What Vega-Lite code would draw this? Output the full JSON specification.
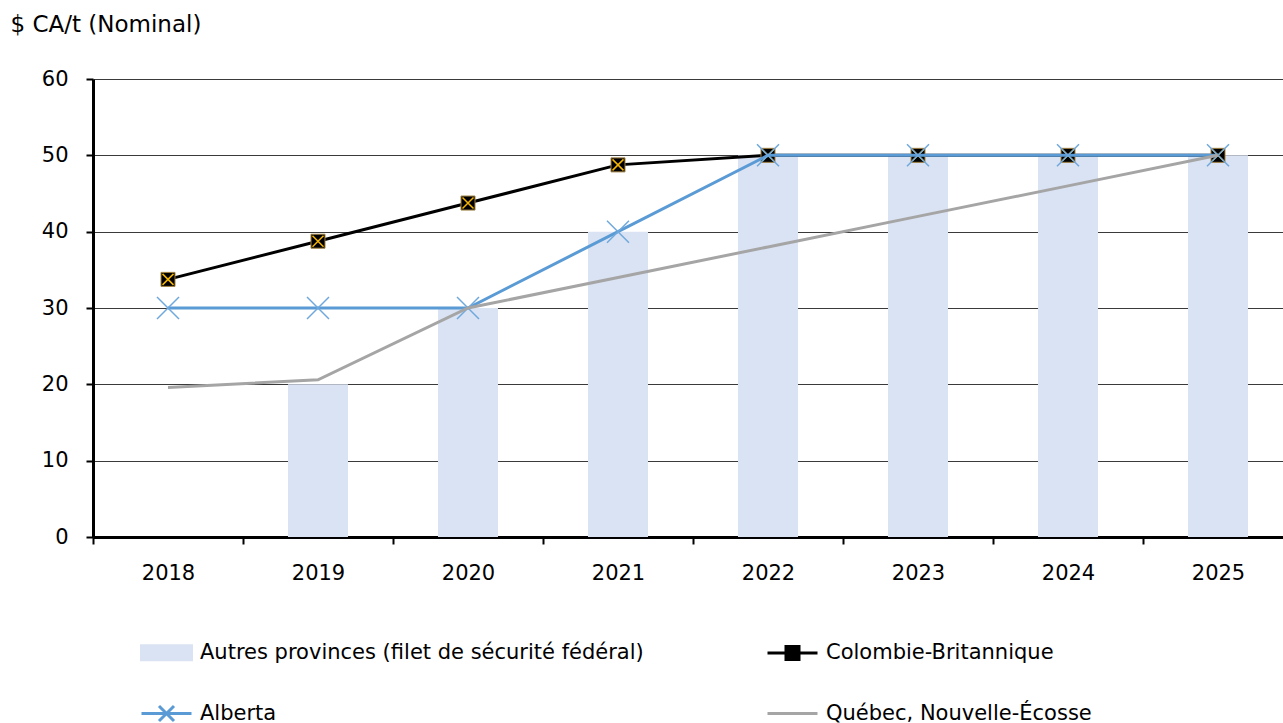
{
  "$schema": "https://vega.github.io/schema/vega-lite/v6.json",
  "autosize": {"type": "none"},
  "padding": {"left": 93, "top": 79, "right": 0, "bottom": 186},
  "width": 1200,
  "height": 458,
  "background": "white",
  "config": {
    "view": {"stroke": null},
    "font": "DejaVu Sans",
    "axis": {"labelFont": "DejaVu Sans", "labelFontSize": 21, "labelColor": "#000000", "titleFont": "DejaVu Sans", "titleFontSize": 23, "titleFontWeight": "normal", "titleColor": "#000000"},
    "legend": {"labelFont": "DejaVu Sans", "labelFontSize": 21, "labelColor": "#000000"}
  },
  "data": {
    "values": [
      {"year": "2019", "series": "Autres provinces (filet de sécurité fédéral)", "value": 20},
      {"year": "2020", "series": "Autres provinces (filet de sécurité fédéral)", "value": 30},
      {"year": "2021", "series": "Autres provinces (filet de sécurité fédéral)", "value": 40},
      {"year": "2022", "series": "Autres provinces (filet de sécurité fédéral)", "value": 50},
      {"year": "2023", "series": "Autres provinces (filet de sécurité fédéral)", "value": 50},
      {"year": "2024", "series": "Autres provinces (filet de sécurité fédéral)", "value": 50},
      {"year": "2025", "series": "Autres provinces (filet de sécurité fédéral)", "value": 50},
      {"year": "2018", "series": "Colombie-Britannique", "value": 33.75},
      {"year": "2019", "series": "Colombie-Britannique", "value": 38.75},
      {"year": "2020", "series": "Colombie-Britannique", "value": 43.75},
      {"year": "2021", "series": "Colombie-Britannique", "value": 48.75},
      {"year": "2022", "series": "Colombie-Britannique", "value": 50},
      {"year": "2023", "series": "Colombie-Britannique", "value": 50},
      {"year": "2024", "series": "Colombie-Britannique", "value": 50},
      {"year": "2025", "series": "Colombie-Britannique", "value": 50},
      {"year": "2018", "series": "Alberta", "value": 30},
      {"year": "2019", "series": "Alberta", "value": 30},
      {"year": "2020", "series": "Alberta", "value": 30},
      {"year": "2021", "series": "Alberta", "value": 40},
      {"year": "2022", "series": "Alberta", "value": 50},
      {"year": "2023", "series": "Alberta", "value": 50},
      {"year": "2024", "series": "Alberta", "value": 50},
      {"year": "2025", "series": "Alberta", "value": 50},
      {"year": "2018", "series": "Québec, Nouvelle-Écosse", "value": 19.6},
      {"year": "2019", "series": "Québec, Nouvelle-Écosse", "value": 20.6},
      {"year": "2020", "series": "Québec, Nouvelle-Écosse", "value": 30},
      {"year": "2021", "series": "Québec, Nouvelle-Écosse", "value": 34},
      {"year": "2022", "series": "Québec, Nouvelle-Écosse", "value": 38},
      {"year": "2023", "series": "Québec, Nouvelle-Écosse", "value": 42},
      {"year": "2024", "series": "Québec, Nouvelle-Écosse", "value": 46},
      {"year": "2025", "series": "Québec, Nouvelle-Écosse", "value": 50}
    ]
  },
  "encoding": {
    "x": {
      "field": "year", "type": "ordinal",
      "scale": {"domain": ["2018","2019","2020","2021","2022","2023","2024","2025"], "paddingInner": 0, "paddingOuter": 0},
      "axis": {"title": null, "labelAngle": 0, "tickBand": "extent", "domainColor": "#000000", "domainWidth": 3, "tickColor": "#000000", "tickWidth": 2, "tickSize": 7, "labelPadding": 18, "grid": false}
    },
    "y": {
      "field": "value", "type": "quantitative",
      "scale": {"domain": [0, 60], "nice": false},
      "axis": {"values": [0,10,20,30,40,50,60], "title": "$ CA/t (Nominal)", "titleAngle": 0, "titleAlign": "left", "titleBaseline": "alphabetic", "titleX": -83, "titleY": -48, "grid": true, "gridColor": "#3a3a3a", "gridWidth": 1, "domainColor": "#000000", "domainWidth": 3, "tickColor": "#000000", "tickWidth": 2, "tickSize": 7, "labelPadding": 18}
    }
  },
  "layer": [
    {
      "transform": [{"filter": "datum.series === 'Autres provinces (filet de sécurité fédéral)'"}],
      "mark": {"type": "bar", "width": {"band": 0.4}},
      "encoding": {
        "color": {
          "field": "series", "type": "nominal",
          "sort": ["Autres provinces (filet de sécurité fédéral)", "Colombie-Britannique", "Alberta", "Québec, Nouvelle-Écosse"],
          "scale": {"domain": ["Autres provinces (filet de sécurité fédéral)", "Colombie-Britannique", "Alberta", "Québec, Nouvelle-Écosse"], "range": ["#dae3f3", "#000000", "#5b9bd5", "#a5a5a5"]},
          "legend": {
            "title": null, "orient": "none", "direction": "horizontal", "legendX": 47, "legendY": 547, "columns": 2, "columnPadding": 117, "rowPadding": 21,
            "symbolSize": 2500, "labelOffset": 7, "labelLimit": 700,
            "encode": {
              "symbols": {
                "update": {
                  "shape": {"signal": "indexof(datum.value,'Autres')===0 ? 'M-1,-0.28H1V0.28H-1Z' : indexof(datum.value,'Colombie')===0 ? 'M-1,0H1M-0.26,-0.26H0.26V0.26H-0.26Z' : indexof(datum.value,'Alberta')===0 ? 'M-1,0H1M-0.3,-0.3L0.3,0.3M-0.3,0.3L0.3,-0.3' : 'M-1,0H1'"},
                  "fill": {"signal": "indexof(datum.value,'Autres')===0 ? '#dae3f3' : indexof(datum.value,'Colombie')===0 ? '#000000' : 'transparent'"},
                  "stroke": {"signal": "indexof(datum.value,'Autres')===0 ? 'transparent' : indexof(datum.value,'Colombie')===0 ? '#000000' : indexof(datum.value,'Alberta')===0 ? '#5b9bd5' : '#a5a5a5'"},
                  "strokeWidth": {"value": 3},
                  "opacity": {"value": 1},
                  "fillOpacity": {"value": 1},
                  "strokeOpacity": {"value": 1}
                }
              }
            }
          }
        }
      }
    },
    {
      "transform": [{"filter": "datum.series === 'Colombie-Britannique'"}],
      "mark": {"type": "line", "strokeWidth": 3},
      "encoding": {"color": {"field": "series", "type": "nominal", "sort": ["Autres provinces (filet de sécurité fédéral)", "Colombie-Britannique", "Alberta", "Québec, Nouvelle-Écosse"]}}
    },
    {
      "transform": [{"filter": "datum.series === 'Colombie-Britannique'"}],
      "mark": {"type": "point", "shape": "square", "size": 196, "filled": true, "fill": "#000000", "stroke": "#a08040", "strokeWidth": 1, "opacity": 1}
    },
    {
      "transform": [{"filter": "datum.series === 'Colombie-Britannique'"}],
      "mark": {"type": "point", "shape": "M-1,-1L1,1M-1,1L1,-1", "size": 121, "filled": false, "stroke": "#f5b400", "strokeWidth": 1.5, "opacity": 1}
    },
    {
      "transform": [{"filter": "datum.series === 'Alberta'"}],
      "mark": {"type": "line", "strokeWidth": 3},
      "encoding": {"color": {"field": "series", "type": "nominal", "sort": ["Autres provinces (filet de sécurité fédéral)", "Colombie-Britannique", "Alberta", "Québec, Nouvelle-Écosse"]}}
    },
    {
      "transform": [{"filter": "datum.series === 'Alberta'"}],
      "mark": {"type": "point", "shape": "M-1,-1L1,1M-1,1L1,-1", "size": 484, "filled": false, "stroke": "#6fa8dc", "strokeWidth": 1.5, "opacity": 1}
    },
    {
      "transform": [{"filter": "datum.series === 'Québec, Nouvelle-Écosse'"}],
      "mark": {"type": "line", "strokeWidth": 3},
      "encoding": {"color": {"field": "series", "type": "nominal", "sort": ["Autres provinces (filet de sécurité fédéral)", "Colombie-Britannique", "Alberta", "Québec, Nouvelle-Écosse"]}}
    }
  ]
}
